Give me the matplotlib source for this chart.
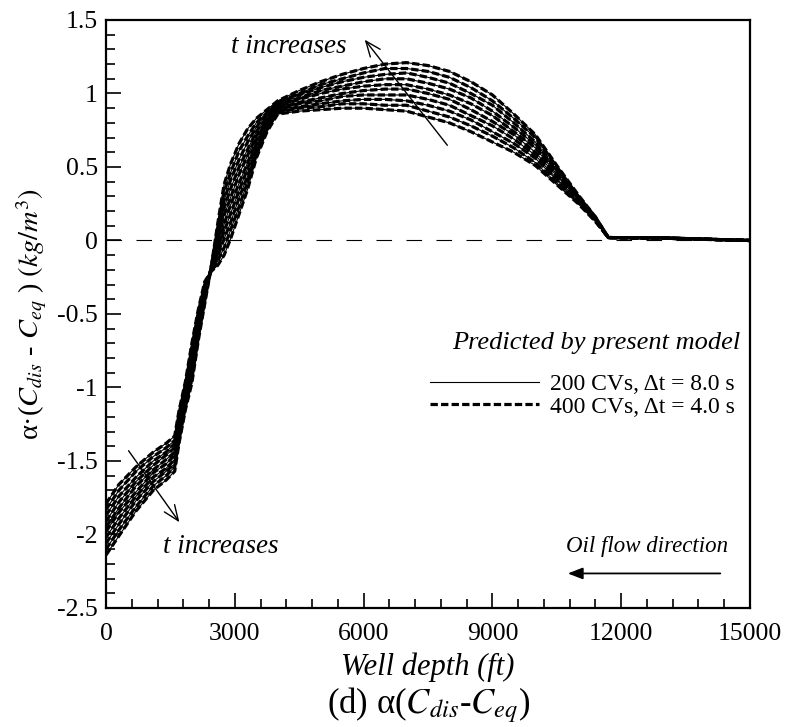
import matplotlib
matplotlib.use("Agg")
import matplotlib.pyplot as plt
from matplotlib.lines import Line2D

plt.rcParams["font.family"] = ["Liberation Serif", "DejaVu Serif"]
plt.rcParams["mathtext.fontset"] = "stix"

# well depth grid (ft), shared by all time levels
depth = [0, 300, 700, 1100, 1400, 1600, 1700, 1850, 2000, 2150, 2300, 2450,
         2600, 2750, 2900, 3100, 3300, 3500, 3750, 4000, 4500, 5000, 5500,
         6000, 6500, 7000, 7500, 8000, 8500, 9000, 9500, 10000, 10500,
         11000, 11400, 11700, 13000, 15000]

# alpha*(C_dis - C_eq), one list per time level (earliest first)
t01 = [-1.79, -1.66, -1.54, -1.44, -1.38, -1.33, -1.16, -0.96, -0.70, -0.47, -0.28, -0.21,
       -0.17, -0.10, 0.01, 0.18, 0.35, 0.56, 0.74, 0.86, 0.88, 0.89, 0.90,
       0.90, 0.89, 0.88, 0.84, 0.80, 0.74, 0.67, 0.60, 0.51, 0.38,
       0.25, 0.13, 0.02, 0.015, 0.0]
t02 = [-1.83, -1.70, -1.57, -1.47, -1.41, -1.36, -1.18, -0.98, -0.73, -0.49, -0.30, -0.21,
       -0.14, -0.05, 0.07, 0.23, 0.40, 0.59, 0.76, 0.87, 0.90, 0.91, 0.93,
       0.93, 0.92, 0.92, 0.88, 0.84, 0.78, 0.71, 0.63, 0.53, 0.39,
       0.26, 0.13, 0.02, 0.015, 0.0]
t03 = [-1.87, -1.74, -1.61, -1.50, -1.44, -1.38, -1.21, -1.00, -0.76, -0.52, -0.31, -0.20,
       -0.11, 0.01, 0.12, 0.29, 0.44, 0.62, 0.77, 0.88, 0.91, 0.93, 0.95,
       0.96, 0.96, 0.95, 0.92, 0.88, 0.82, 0.74, 0.66, 0.56, 0.41,
       0.26, 0.14, 0.02, 0.016, 0.0]
t04 = [-1.91, -1.78, -1.64, -1.53, -1.46, -1.41, -1.23, -1.02, -0.79, -0.54, -0.33, -0.20,
       -0.08, 0.06, 0.18, 0.34, 0.49, 0.65, 0.79, 0.89, 0.93, 0.95, 0.98,
       0.99, 0.99, 0.99, 0.96, 0.92, 0.85, 0.78, 0.69, 0.58, 0.42,
       0.27, 0.14, 0.02, 0.016, 0.0]
t05 = [-1.95, -1.82, -1.67, -1.56, -1.49, -1.44, -1.26, -1.04, -0.82, -0.56, -0.35, -0.20,
       -0.05, 0.11, 0.24, 0.39, 0.53, 0.68, 0.81, 0.90, 0.94, 0.97, 1.00,
       1.02, 1.03, 1.03, 1.00, 0.96, 0.89, 0.81, 0.72, 0.60, 0.44,
       0.28, 0.14, 0.02, 0.016, 0.0]
t06 = [-1.98, -1.85, -1.71, -1.58, -1.52, -1.46, -1.28, -1.07, -0.85, -0.59, -0.36, -0.19,
       -0.01, 0.17, 0.29, 0.45, 0.58, 0.71, 0.82, 0.91, 0.96, 1.00, 1.03,
       1.05, 1.06, 1.06, 1.03, 0.99, 0.93, 0.85, 0.74, 0.63, 0.45,
       0.28, 0.15, 0.02, 0.017, 0.0]
t07 = [-2.02, -1.89, -1.74, -1.61, -1.55, -1.49, -1.31, -1.09, -0.88, -0.61, -0.38, -0.19,
       0.02, 0.22, 0.35, 0.50, 0.62, 0.74, 0.84, 0.92, 0.97, 1.02, 1.05,
       1.08, 1.10, 1.10, 1.07, 1.03, 0.97, 0.88, 0.77, 0.65, 0.47,
       0.29, 0.15, 0.02, 0.017, 0.0]
t08 = [-2.06, -1.93, -1.77, -1.64, -1.57, -1.52, -1.33, -1.11, -0.91, -0.63, -0.40, -0.19,
       0.05, 0.27, 0.41, 0.55, 0.67, 0.77, 0.86, 0.93, 0.99, 1.04, 1.08,
       1.11, 1.13, 1.14, 1.11, 1.07, 1.00, 0.92, 0.80, 0.67, 0.48,
       0.30, 0.15, 0.02, 0.017, 0.0]
t09 = [-2.10, -1.97, -1.81, -1.67, -1.60, -1.54, -1.36, -1.13, -0.94, -0.66, -0.41, -0.18,
       0.08, 0.33, 0.46, 0.61, 0.71, 0.80, 0.87, 0.94, 1.00, 1.06, 1.10,
       1.14, 1.17, 1.17, 1.15, 1.11, 1.04, 0.95, 0.83, 0.70, 0.50,
       0.30, 0.16, 0.02, 0.018, 0.0]
t10 = [-2.14, -2.01, -1.84, -1.70, -1.63, -1.57, -1.38, -1.15, -0.97, -0.68, -0.43, -0.18,
       0.11, 0.38, 0.52, 0.66, 0.76, 0.83, 0.89, 0.95, 1.02, 1.08, 1.13,
       1.17, 1.20, 1.21, 1.19, 1.15, 1.08, 0.99, 0.86, 0.72, 0.51,
       0.31, 0.16, 0.02, 0.018, 0.0]
time_levels = [t01, t02, t03, t04, t05, t06, t07, t08, t09, t10]

legend_labels = ["200 CVs, \u0394t = 8.0 s", "400 CVs, \u0394t = 4.0 s"]

fig = plt.figure(figsize=(7.88, 7.27), dpi=100)
ax = fig.add_axes([0.1345, 0.1637, 0.8173, 0.8088])

for vals in time_levels:
    ax.plot(depth, vals, color="black", lw=0.8, solid_joinstyle="round")
    ax.plot(depth, vals, color="black", lw=2.3, dashes=(2.3, 1.0))

ax.axhline(0, color="black", lw=0.8, dashes=(14, 13))

ax.set_xlim(0, 15000)
ax.set_ylim(-2.5, 1.5)
ax.set_xticks([0, 3000, 6000, 9000, 12000, 15000])
ax.set_xticks(range(0, 15001, 600), minor=True)
ax.set_yticks([-2.5, -2, -1.5, -1, -0.5, 0, 0.5, 1, 1.5])
ax.set_yticklabels(["-2.5", "-2", "-1.5", "-1", "-0.5", "0", "0.5", "1", "1.5"])
ax.set_yticks([i / 10 for i in range(-25, 16)], minor=True)
ax.tick_params(which="both", direction="in", top=False, right=False,
               labelsize=18.5, width=1.2)
ax.tick_params(axis="x", which="major", length=11, pad=11)
ax.tick_params(axis="y", which="major", length=11, pad=6)
ax.tick_params(which="minor", length=6.5)
for sp in ax.spines.values():
    sp.set_linewidth(1.6)

ax.set_xlabel("Well depth (ft)", fontsize=22, style="italic", labelpad=5)
ax.set_ylabel("\u03b1\u00b7($C_{dis}$ - $C_{eq}$ ) $(kg/m^3)$", fontsize=20.5, labelpad=6)

handles = [Line2D([], [], color="black", lw=0.8),
           Line2D([], [], color="black", lw=2.3, dashes=(2.3, 1.0))]
ax.legend(handles, legend_labels, loc="upper right",
          bbox_to_anchor=(0.977, 0.398), frameon=False, fontsize=17,
          handlelength=4.6, handletextpad=0.5, labelspacing=0.03,
          borderpad=0, borderaxespad=0)
ax.text(14767, -0.694, "Predicted by present model", fontsize=19, style="italic",
        ha="right", va="center")

ax.annotate("", xy=(5986, 1.381), xytext=(7990, 0.633),
            arrowprops=dict(arrowstyle="->,head_length=1.1,head_width=0.45", lw=1.0, color="black"))
ax.text(4262, 1.32, "t increases", fontsize=19.5, style="italic", ha="center", va="center")

ax.annotate("", xy=(1747, -1.932), xytext=(489, -1.415),
            arrowprops=dict(arrowstyle="->,head_length=1.1,head_width=0.45", lw=1.0, color="black"))
ax.text(2679, -2.08, "t increases", fontsize=19.5, style="italic", ha="center", va="center")

ax.annotate("", xy=(10691, -2.265), xytext=(14372, -2.265),
            arrowprops=dict(arrowstyle="-|>,head_length=0.9,head_width=0.35", lw=1.3, color="black"))
ax.text(12600, -2.08, "Oil flow direction", fontsize=16.5, style="italic", ha="center", va="center")

fig.text(0.5435, 0.030, "(d) \u03b1($C_{dis}$-$C_{eq}$)", fontsize=25, ha="center", va="center")

fig.savefig("out.png", dpi=100)
